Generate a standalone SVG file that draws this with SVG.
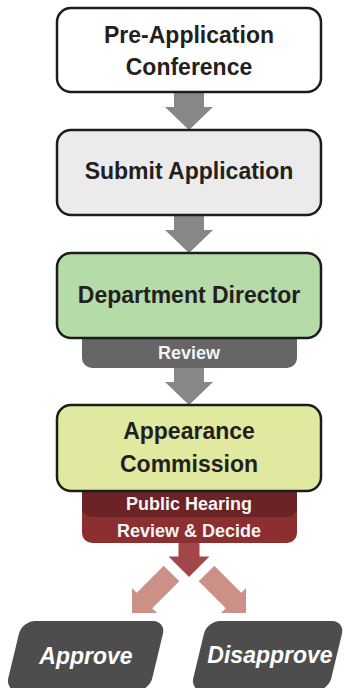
<svg xmlns="http://www.w3.org/2000/svg" width="347" height="688" viewBox="0 0 347 688">
<style>
.box{stroke:#1c1c1c;stroke-width:2.5}
.t{font-family:"Liberation Sans",Arial,sans-serif;font-weight:bold;font-size:23px;fill:#231f20;text-anchor:middle}
.s{font-family:"Liberation Sans",Arial,sans-serif;font-weight:bold;font-size:18px;fill:#f4f4f4;text-anchor:middle}
.o{font-family:"Liberation Sans",Arial,sans-serif;font-weight:bold;font-style:italic;font-size:23px;fill:#ffffff;text-anchor:middle}
.g{fill:#878787}
</style>
<rect width="347" height="688" fill="#ffffff"/>
<g id="connectors">
<polygon class="g" points="174,92 204,92 204,107 213,107 189,130 165,107 174,107"/>
<polygon class="g" points="174,215 204,215 204,230 213,230 189,253 165,230 174,230"/>
<polygon class="g" points="174,366 204,366 204,382 213,382 189,405 165,382 174,382"/>
<polygon fill="#cc9186" points="163.7,565.7 179.3,581.3 152.3,608.3 157,613 132,613 132,588 136.7,592.7"/>
<polygon fill="#cc9186" points="214.3,565.7 198.7,581.3 225.7,608.3 221,613 246,613 246,588 241.3,592.7"/>
<polygon fill="#a1474a" stroke="#ffffff" stroke-width="3" stroke-linejoin="miter" points="177,541 201,541 201,555 213,555 189,579 165,555 177,555"/>
</g>
<g id="pre-application">
<rect class="box" x="57" y="8" width="264" height="84" rx="14" fill="#ffffff"/>
<text class="t" x="189" y="43">Pre-Application</text>
<text class="t" x="189" y="75">Conference</text>
</g>
<g id="submit-application">
<rect class="box" x="57" y="130" width="264" height="85" rx="14" fill="#ebebeb"/>
<text class="t" x="189" y="179">Submit Application</text>
</g>
<g id="department-director">
<path d="M82,325 H297 V358 A10,10 0 0 1 287,368 H92 A10,10 0 0 1 82,358 Z" fill="#666666"/>
<rect class="box" x="57" y="253" width="264" height="85" rx="14" fill="#b4dba8"/>
<text class="t" x="189" y="303">Department Director</text>
<text class="s" x="189" y="359">Review</text>
</g>
<g id="appearance-commission">
<path d="M82,480 H297 V533 A10,10 0 0 1 287,543 H92 A10,10 0 0 1 82,533 Z" fill="#8b2f30"/>
<path d="M82,480 H297 V507 A10,10 0 0 1 287,517 H92 A10,10 0 0 1 82,507 Z" fill="#6b2325"/>
<rect class="box" x="57" y="405" width="264" height="86" rx="14" fill="#e1e89f"/>
<text class="t" x="189" y="439">Appearance</text>
<text class="t" x="189" y="472">Commission</text>
<text class="s" x="189" y="510">Public Hearing</text>
<text class="s" x="189" y="537">Review &amp; Decide</text>
</g>
<g id="approve">
<rect x="0" y="0" width="144" height="70" rx="13" fill="#4d4d4d" transform="translate(22,621) skewX(-13.5)"/>
<text class="o" x="86" y="664">Approve</text>
</g>
<g id="disapprove">
<rect x="0" y="0" width="138" height="70" rx="13" fill="#4d4d4d" transform="translate(207,621) skewX(-13.5)"/>
<text class="o" x="270" y="663">Disapprove</text>
</g>
</svg>
